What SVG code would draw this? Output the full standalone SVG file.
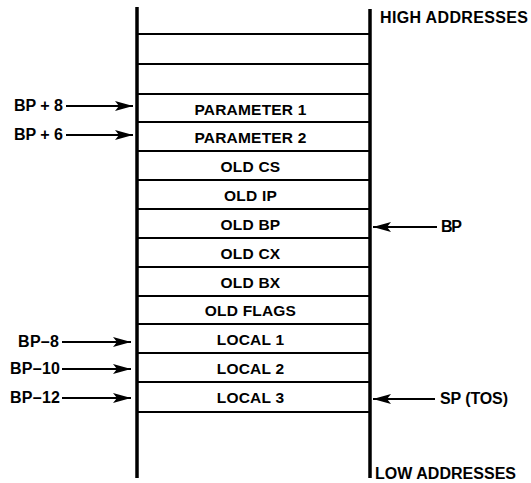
<svg xmlns="http://www.w3.org/2000/svg" width="531" height="483" viewBox="0 0 531 483">
<defs>
<marker id="ah" markerWidth="20" markerHeight="12" refX="18" refY="6" orient="auto" markerUnits="userSpaceOnUse">
<path d="M0,1 L18,6 L0,11 L4,6 Z" fill="#000"/>
</marker>
<style>
.t{font-family:"Liberation Sans",Arial,sans-serif;font-weight:bold;font-size:16px;fill:#000}
.c{text-anchor:middle;font-size:15.5px;letter-spacing:0.2px}
.rail{stroke:#000;stroke-width:3.5}
.row{stroke:#000;stroke-width:2}
.arr{stroke:#000;stroke-width:2;fill:none}
</style>
</defs>
<rect width="531" height="483" fill="#fff"/>
<g id="stack">
<line class="rail" x1="137" y1="7" x2="137" y2="478"/>
<line class="rail" x1="370" y1="9" x2="370" y2="478"/>
<line class="row" x1="137" y1="34" x2="370" y2="34"/>
<line class="row" x1="137" y1="64" x2="370" y2="64"/>
<line class="row" x1="137" y1="94" x2="370" y2="94"/>
<line class="row" x1="137" y1="122" x2="370" y2="122"/>
<line class="row" x1="137" y1="151" x2="370" y2="151"/>
<line class="row" x1="137" y1="180" x2="370" y2="180"/>
<line class="row" x1="137" y1="209" x2="370" y2="209"/>
<line class="row" x1="137" y1="238" x2="370" y2="238"/>
<line class="row" x1="137" y1="267" x2="370" y2="267"/>
<line class="row" x1="137" y1="296" x2="370" y2="296"/>
<line class="row" x1="137" y1="324" x2="370" y2="324"/>
<line class="row" x1="137" y1="353" x2="370" y2="353"/>
<line class="row" x1="137" y1="382" x2="370" y2="382"/>
<line class="row" x1="137" y1="412" x2="370" y2="412"/>
</g>
<g id="cells">
<text class="t c" x="250.5" y="115">PARAMETER 1</text>
<text class="t c" x="250.5" y="143">PARAMETER 2</text>
<text class="t c" x="250.5" y="172">OLD CS</text>
<text class="t c" x="250.5" y="201">OLD IP</text>
<text class="t c" x="250.5" y="230">OLD BP</text>
<text class="t c" x="250.5" y="259">OLD CX</text>
<text class="t c" x="250.5" y="288">OLD BX</text>
<text class="t c" x="250.5" y="316">OLD FLAGS</text>
<text class="t c" x="250.5" y="345">LOCAL 1</text>
<text class="t c" x="250.5" y="374">LOCAL 2</text>
<text class="t c" x="250.5" y="403">LOCAL 3</text>
</g>
<g id="labels">
<text class="t" x="380" y="23" textLength="148">HIGH ADDRESSES</text>
<text class="t" x="375" y="479" textLength="141">LOW ADDRESSES</text>
<text class="t" x="14" y="111" textLength="49">BP + 8</text>
<text class="t" x="14" y="140" textLength="49">BP + 6</text>
<text class="t" x="18" y="347" textLength="41">BP–8</text>
<text class="t" x="10" y="374" textLength="50">BP–10</text>
<text class="t" x="10" y="403" textLength="50">BP–12</text>
<text class="t" x="441" y="232" textLength="21">BP</text>
<text class="t" x="440" y="404" textLength="68">SP (TOS)</text>
</g>
<g id="connectors">
<line class="arr" x1="66" y1="106" x2="133" y2="106" marker-end="url(#ah)"/>
<line class="arr" x1="66" y1="135" x2="133" y2="135" marker-end="url(#ah)"/>
<line class="arr" x1="62" y1="342" x2="131" y2="342" marker-end="url(#ah)"/>
<line class="arr" x1="62" y1="369" x2="131" y2="369" marker-end="url(#ah)"/>
<line class="arr" x1="62" y1="398" x2="131" y2="398" marker-end="url(#ah)"/>
<line class="arr" x1="437" y1="227" x2="373" y2="227" marker-end="url(#ah)"/>
<line class="arr" x1="435" y1="399" x2="373" y2="399" marker-end="url(#ah)"/>
</g>
</svg>
